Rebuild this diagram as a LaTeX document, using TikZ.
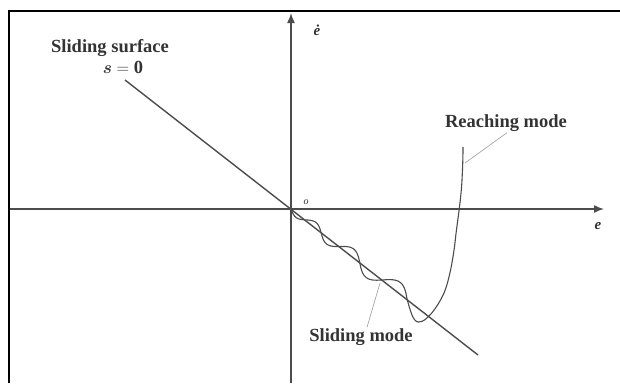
\documentclass[tikz,border=0pt]{standalone}
\usepackage{fontspec}
\setmainfont{Liberation Serif}
\usepackage{amsmath}
\usetikzlibrary{arrows.meta}

\begin{document}
\begin{tikzpicture}[
        x=1pt, y=-1pt,
        frameline/.style={line width=1.8pt, black},
        axis/.style={line width=1.5pt, black!70, -{Latex[length=10pt, width=8pt]}},
        surface/.style={line width=1.4pt, black!70},
        traj/.style={line width=1.1pt, black!70},
        leader/.style={line width=0.7pt, black!35},
        labelstyle/.style={inner sep=1pt, text=black!80, font=\fontsize{18.5}{20}\selectfont\bfseries},
        mathlabel/.style={inner sep=1pt, text=black!80, font=\fontsize{15}{16}\selectfont\bfseries\itshape}
    ]

    \useasboundingbox (0,0) rectangle (620,383);

    % --- Frame ---
    \draw[frameline] (9,383) -- (9,11) -- (620,11);

    % --- Axes ---
    \coordinate (origin) at (291,209);
    \coordinate (eleft) at (10,209);
    \coordinate (eright) at (604,209);
    \coordinate (dbottom) at (291,383);
    \coordinate (dtop) at (291,13);
    \draw[axis] (eleft) -- (eright);
    \draw[axis] (dbottom) -- (dtop);

    \node[mathlabel] (elab) at (598,226) {e};
    \node[mathlabel] (edot) at (317,30) {ė};
    \node[mathlabel, font=\fontsize{10}{11}\selectfont\itshape] (olab) at (306,202) {o};

    % --- Sliding surface s = 0 ---
    \coordinate (sstart) at (125,80);
    \coordinate (send) at (478,355);
    \draw[surface] (sstart) -- (send);

    \node[labelstyle] (surf) at (110,48) {Sliding surface};
    \node[labelstyle] (sval) at (123,67) {$\boldsymbol{s}=\mathbf{0}$};

    % --- Trajectory: chattering along s = 0, then reaching part ---
    \draw[traj] plot[domain=0:6, samples=240, variable=\k, smooth]
        ({291+0.7895*(16.25*\k+1.375*\k*\k)-0.6137*(3+1.1*\k)*sin(180*\k)},
         {209+0.6137*(16.25*\k+1.375*\k*\k)+0.7895*(3+1.1*\k)*sin(180*\k)})
        .. controls (410.5,311) and (413,322) .. (418.5,322)
        .. controls (423,322) and (426,319) .. (429.5,315.5)
        .. controls (434,311) and (440,302) .. (444,293)
        .. controls (448,284) and (453,262) .. (455.5,238)
        .. controls (457,224) and (461,200) .. (462,180)
        .. controls (462.6,168) and (463,158) .. (463,147);

    % --- Mode labels ---
    \node[labelstyle] (reach) at (506,123) {Reaching mode};
    \coordinate (rtip) at (465,163);
    \draw[leader] ([xshift=1pt]reach.south) -- (rtip);

    \node[labelstyle] (slide) at (361,337) {Sliding mode};
    \coordinate (stip) at (380,283);
    \draw[leader] ([xshift=6pt]slide.north) -- (stip);

\end{tikzpicture}
\end{document}
